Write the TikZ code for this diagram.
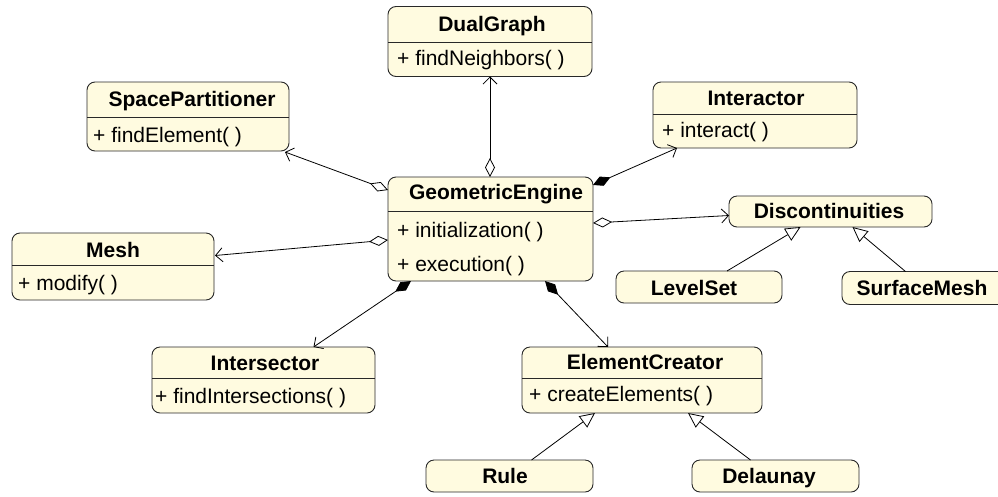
\documentclass[tikz,border=0pt]{standalone}
\usepackage{fontspec}
\setmainfont{Liberation Sans}
\usetikzlibrary{arrows.meta,calc}
\definecolor{boxfill}{RGB}{255,251,224}
\definecolor{boxline}{RGB}{40,40,40}
\begin{document}
\begin{tikzpicture}[x=1pt,y=-1pt,
  box/.style={draw=boxline, fill=boxfill, rounded corners=8pt, line width=0.9pt, inner sep=0pt, outer sep=0pt},
  ttl/.style={font=\fontsize{21}{25}\selectfont\bfseries, inner sep=0pt, anchor=base},
  mth/.style={font=\fontsize{21}{25}\selectfont, inner sep=0pt, anchor=base west},
  divl/.style={draw=boxline, line width=0.9pt},
  conn/.style={line width=0.8pt, draw=black},
  agg/.style={conn, {Diamond[open,length=19pt,width=10pt]}-{Straight Barb[length=7pt,width=14pt]}},
  comp/.style={conn, {Diamond[length=19pt,width=10pt]}-{Straight Barb[length=7pt,width=14pt]}},
  inh/.style={conn, -{Triangle[open,length=15pt,width=14pt,fill=white]}}
]
\useasboundingbox (0,0) rectangle (998,496);
\clip (0,0) rectangle (998,496);

% boxes
\node[box, minimum width=204pt, minimum height=70pt] (dg) at (490,41.5) {};
\node[box, minimum width=202pt, minimum height=69pt] (sp) at (188,116.5) {};
\node[box, minimum width=204pt, minimum height=66pt] (it) at (755,115) {};
\node[box, minimum width=205pt, minimum height=104pt] (ge) at (490.5,229) {};
\node[box, minimum width=202pt, minimum height=67pt] (mesh) at (113,266.5) {};
\node[box, minimum width=203pt, minimum height=31pt] (disc) at (830.5,211.5) {};
\node[box, minimum width=166pt, minimum height=32pt] (ls) at (699,287) {};
\node[box, minimum width=167pt, minimum height=33pt] (sm) at (925.5,288) {};
\node[box, minimum width=223pt, minimum height=66pt] (ix) at (263.5,380) {};
\node[box, minimum width=240pt, minimum height=66pt] (ec) at (642,380) {};
\node[box, minimum width=167pt, minimum height=32pt] (rule) at (509.5,476) {};
\node[box, minimum width=167pt, minimum height=32pt] (del) at (775.5,476) {};

% dividers
\draw[divl] (dg.west |- 0,42) -- (dg.east |- 0,42);
\draw[divl] (sp.west |- 0,117) -- (sp.east |- 0,117);
\draw[divl] (it.west |- 0,114) -- (it.east |- 0,114);
\draw[divl] (ge.west |- 0,211) -- (ge.east |- 0,211);
\draw[divl] (mesh.west |- 0,265) -- (mesh.east |- 0,265);
\draw[divl] (ix.west |- 0,378) -- (ix.east |- 0,378);
\draw[divl] (ec.west |- 0,378) -- (ec.east |- 0,378);

% titles
\node[ttl] (dgT) at (492,31) {DualGraph};
\node[ttl] (spT) at (192,106) {SpacePartitioner};
\node[ttl] (itT) at (756,105) {Interactor};
\node[ttl] (geT) at (496,199) {GeometricEngine};
\node[ttl] (meshT) at (113,257) {Mesh};
\node[ttl] (discT) at (829,218) {Discontinuities};
\node[ttl] (lsT) at (694,295) {LevelSet};
\node[ttl] (smT) at (922,295) {SurfaceMesh};
\node[ttl] (ixT) at (265,370) {Intersector};
\node[ttl] (ecT) at (645,369) {ElementCreator};
\node[ttl] (ruleT) at (505,483) {Rule};
\node[ttl] (delT) at (769,483) {Delaunay};

% methods
\node[mth] (dgM) at (397,65) {+ findNeighbors( )};
\node[mth] (spM) at (93,142) {+ findElement( )};
\node[mth] (itM) at (662,137) {+ interact( )};
\node[mth] (geM1) at (397,237) {+ initialization( )};
\node[mth] (geM2) at (397,271) {+ execution( )};
\node[mth] (meshM) at (18,290) {+ modify( )};
\node[mth] (ixM) at (155,403) {+ findIntersections( )};
\node[mth] (ecM) at (529,401) {+ createElements( )};

% connectors
\draw[agg] (ge.north -| dg.south) -- (dg.south);
\draw[agg] ($(ge.north west)+(0,13)$) -- ($(sp.south east)+(-4,1)$);
\draw[agg] ($(ge.west)+(0,11)$) -- ($(mesh.east)+(1,-11)$);
\draw[comp] ($(ge.north east)+(0,8)$) -- ($(it.south west)+(24,0)$);
\draw[agg] ($(ge.east)+(0,-6)$) -- ($(disc.west)+(0,4)$);
\draw[comp] ($(ge.south west)+(23,0)$) -- ($(ix.north)+(50,0)$);
\draw[comp] ($(ge.south west)+(157,0)$) -- ($(ec.north)+(-34,0)$);
\draw[inh] ($(ls.north)+(28,0)$) -- ($(disc.south)+(-30,0)$);
\draw[inh] ($(sm.north)+(-20,0)$) -- ($(disc.south)+(22,0)$);
\draw[inh] ($(rule.north)+(22,0)$) -- ($(ec.south)+(-47,0)$);
\draw[inh] ($(del.north)+(-25,0)$) -- ($(ec.south)+(46,0)$);
\end{tikzpicture}
\end{document}
